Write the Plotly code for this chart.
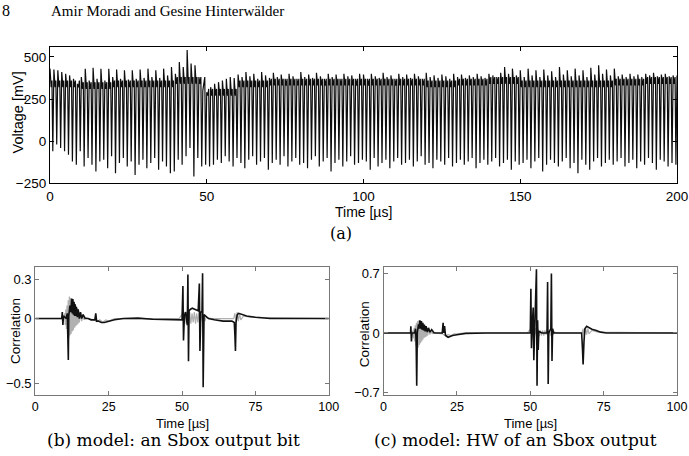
import plotly.graph_objects as go

# ---------------- data: panel (a) power trace, one entry per clock cycle ----------------
cycle_us = 1.25
peak_mv = [430, 425, 420, 410, 400, 390, 370, 340, 380, 430,
           360, 435, 370, 430, 360, 430, 380, 425, 370, 420,
           365, 420, 370, 425, 375, 430, 380, 420, 375, 430,
           390, 440, 400, 470, 440, 540, 460, 450, 380, 300,
           290, 320, 340, 350, 360, 370, 380, 375, 395, 380,
           410, 385, 400, 370, 410, 390, 375, 405, 380, 395,
           370, 400, 385, 370, 410, 380, 395, 375, 405, 385,
           370, 400, 380, 395, 370, 400, 385, 390, 370, 400,
           395, 370, 400, 385, 375, 405, 380, 390, 370, 400,
           380, 395, 375, 400, 385, 370, 405, 380, 390, 375,
           395, 385, 370, 400, 380, 395, 375, 390, 380, 400,
           385, 375, 400, 390, 380, 405, 440, 400, 430, 390,
           420, 380, 430, 390, 420, 380, 425, 390, 415, 380,
           440, 395, 420, 385, 430, 390, 420, 380, 435, 395,
           450, 400, 425, 390, 430, 385, 395, 380, 400, 385,
           395, 380, 400, 390, 405, 385, 395, 400, 385, 390]
trough_mv = [-60, -20, -40, -60, -80, -120, -140, -60, -150, -100,
             -140, -180, -120, -110, -160, -90, -190, -130, -100, -150,
             -120, -200, -140, -110, -160, -130, -100, -170, -120, -150,
             -190, -180, -110, -140, -90, -40, -210, -100, -150, -140,
             -150, -140, -110, -130, -90, -120, -150, -100, -130, -160,
             -110, -90, -140, -120, -100, -170, -130, -110, -140, -90,
             -150, -120, -100, -140, -130, -160, -110, -90, -150, -120,
             -100, -180, -130, -110, -150, -120, -90, -140, -130, -110,
             -120, -170, -100, -150, -130, -110, -160, -120, -100, -140,
             -130, -110, -150, -120, -90, -140, -130, -160, -110, -120,
             -140, -100, -150, -130, -110, -140, -120, -100, -160, -130,
             -110, -140, -120, -100, -150, -130, -110, -170, -120, -140,
             -130, -110, -160, -120, -100, -180, -140, -110, -130, -150,
             -120, -100, -160, -130, -190, -110, -140, -170, -120, -100,
             -150, -130, -110, -140, -120, -100, -150, -130, -110, -160,
             -120, -140, -100, -130, -170, -110, -120, -150, -130, -140]
# plateau (dark band) level per 10 us block
plateau_mv = [320, 310, 320, 320, 340, 270, 320, 330, 330, 330,
              330, 330, 320, 330, 340, 320, 320, 320, 330, 340]

# ---------------- data: panels (b) and (c) correlation traces ----------------
b_time = [0, 5, 9.0, 9.2, 9.4, 9.6, 10.5, 10.9, 11.1, 11.25, 11.4, 11.8, 12.1, 12.4, 12.6,
          12.8, 13.0, 13.2, 13.4, 13.6, 13.8, 14.0, 14.3, 14.6, 15.0, 15.4, 15.8, 16.3, 17.0,
          18.0, 19.0, 20.3, 20.6, 20.9, 21.5, 22.5, 23.5, 25, 27, 30, 35, 40, 45, 48,
          50.0, 50.3, 50.5, 50.8, 51.2, 51.8, 52.0, 52.2, 52.4, 52.8, 53.5, 54.5, 55.5,
          55.9, 56.1, 56.4, 56.8, 57.0, 57.2, 57.5, 58, 59, 61, 64, 67, 67.8, 68.0, 68.2,
          68.4, 68.8, 69.3, 70, 72, 75, 80, 90, 100]
b_corr = [0, 0.003, 0.0, 0.05, -0.05, 0.02, 0.0, 0.04, -0.1, -0.32, 0.02, 0.10, 0.05, 0.155, 0.04,
          0.15, 0.03, 0.13, 0.02, 0.11, 0.02, 0.09, 0.01, 0.07, 0.0, 0.05, 0.0, 0.03, 0.0,
          0.0, -0.01, -0.01, 0.04, -0.02, -0.02, -0.03, -0.03, -0.02, -0.01, 0.0, 0.003, -0.005, -0.01, -0.01,
          -0.01, 0.25, -0.17, 0.02, 0.05, -0.05, 0.34, -0.33, 0.06, 0.07, 0.08, 0.07, 0.06,
          0.27, -0.25, 0.05, 0.05, 0.35, -0.53, 0.03, 0.02, 0.0, -0.01, -0.02, -0.02, -0.03, -0.12, -0.25,
          -0.03, 0.03, 0.04, 0.035, 0.02, 0.01, 0.0, 0.0, 0.0]

c_time = [0, 8, 9.2, 9.3, 9.5, 9.7, 10.6, 10.9, 11.1, 11.3, 11.5, 11.9, 12.1, 12.4, 12.6,
          12.9, 13.1, 13.4, 13.6, 13.9, 14.2, 14.5, 14.9, 15.3, 15.8, 16.4, 17.2, 18.5,
          20.0, 20.3, 20.5, 20.8, 21.1, 22.0, 23.5, 25, 28, 35, 45,
          50.0, 50.2, 50.4, 50.6, 51.0, 51.2, 51.5, 51.9, 52.1, 52.3, 52.5, 52.7, 52.9, 54,
          55.7, 55.9, 56.1, 56.3, 57.0, 57.2, 57.4, 57.6, 58, 60,
          67.5, 67.8, 68.0, 68.3, 68.6, 69.2, 70.0, 71, 72.5, 74, 76, 100]
c_corr = [0, 0, 0.0, 0.08, -0.1, 0.0, 0.0, 0.05, -0.1, -0.62, 0.0, 0.10, 0.05, 0.15, 0.05,
          0.14, 0.04, 0.12, 0.03, 0.10, 0.02, 0.08, 0.01, 0.06, 0.01, 0.04, 0.0, 0.0,
          0.0, 0.12, 0.0, 0.08, -0.03, -0.05, -0.03, -0.02, -0.005, 0.0, 0.0,
          0.0, 0.52, -0.18, 0.05, 0.3, -0.32, 0.0, 0.45, 0.75, -0.62, 0.15, -0.2, 0.02, 0.0,
          0.0, 0.6, -0.6, 0.0, 0.05, 0.70, -0.33, 0.05, 0.0, 0.0,
          0.0, -0.2, -0.37, -0.1, 0.05, 0.08, 0.06, 0.045, 0.03, 0.01, 0.0, 0.0]

# wrong-key-hypothesis traces (grey)
gray_time = [0, 9.8, 10.0, 10.2, 10.4, 10.6, 10.8, 11.0, 11.2, 11.4, 11.6, 11.8, 12.0, 12.2, 12.4,
             12.6, 12.8, 13.0, 13.2, 13.4, 13.6, 13.8, 14.0, 14.2, 14.4, 14.6, 14.8,
             15.0, 15.4, 15.8, 16.2, 16.6, 17.0, 18, 20, 21, 22, 23, 24, 25, 27, 49,
             50.2, 50.6, 51, 51.4, 51.8, 52.2, 52.6, 53, 53.4, 53.8, 54.2, 54.6, 55, 55.4,
             55.8, 56.2, 56.6, 57, 57.4, 57.8, 58.2, 60, 67.6, 68, 68.4, 68.8, 69.2, 69.6,
             70, 71, 73, 100]
b_gray = [0, 0, 0.04, -0.05, 0.07, -0.08, 0.10, -0.12, 0.14, -0.15, 0.17, -0.13, 0.16, -0.12, 0.15,
          -0.10, 0.14, -0.09, 0.12, -0.07, 0.11, -0.06, 0.09, -0.05, 0.08, -0.04, 0.06,
          -0.03, 0.04, -0.02, 0.03, -0.01, 0.01, 0, -0.01, -0.025, -0.01, -0.03, -0.01, -0.02, 0, 0,
          0.04, -0.05, 0.05, -0.04, 0.06, -0.05, 0.05, -0.04, 0.04, -0.03, 0.05, -0.04, 0.04, -0.03,
          0.05, -0.04, 0.04, -0.03, 0.03, -0.02, 0.01, 0, 0, 0.04, -0.03, 0.05, -0.02, 0.04,
          -0.01, 0.02, 0.01, 0]
c_gray = [0, 0, 0.03, -0.06, 0.06, -0.10, 0.09, -0.15, 0.12, -0.20, 0.14, -0.17, 0.15, -0.14, 0.14,
          -0.12, 0.12, -0.10, 0.11, -0.08, 0.10, -0.06, 0.08, -0.05, 0.07, -0.04, 0.05,
          -0.03, 0.04, -0.02, 0.03, -0.01, 0.01, 0, -0.01, -0.03, -0.02, -0.03, -0.01, -0.01, 0, 0,
          0.05, -0.06, 0.04, -0.05, 0.06, -0.05, 0.05, -0.04, 0.03, -0.03, 0.03, -0.03, 0.03, -0.02,
          0.04, -0.03, 0.04, -0.03, 0.03, -0.02, 0.01, 0, 0, 0.05, -0.04, 0.06, -0.02, 0.05,
          -0.01, 0.03, 0.01, 0]

x_ticks_a = [0, 50, 100, 150, 200]
y_ticks_a = [-250, 0, 250, 500]
x_ticks_bc = [0, 25, 50, 75, 100]
y_ticks_b = [-0.5, 0, 0.3]
y_ticks_c = [-0.7, 0, 0.7]

# ---------------- build panel (a) series from per-cycle values ----------------
phase = [0.0, 0.3, 0.5, 0.72]
band_wiggle = 40
ta, va = [], []
for k in range(len(peak_mv)):
    t0 = k * cycle_us
    lvl = plateau_mv[min(int(t0 // 10), len(plateau_mv) - 1)]
    ta += [t0 + p * cycle_us for p in phase]
    va += [peak_mv[k], lvl, lvl + band_wiggle, trough_mv[k]]
ta.append(len(peak_mv) * cycle_us)
va.append(peak_mv[-1])

W, H = 689, 456
def px(x):
    return x / W
def py(y):
    return 1 - y / H

fig = go.Figure()
fig.add_trace(go.Scatter(x=ta, y=va, mode="lines", line=dict(color="#0d0d0d", width=1.2),
                         xaxis="x", yaxis="y", showlegend=False, hoverinfo="skip"))
fig.add_trace(go.Scatter(x=gray_time, y=b_gray, mode="lines", line=dict(color="#b0b0b0", width=1.2),
                         xaxis="x2", yaxis="y2", showlegend=False, hoverinfo="skip"))
fig.add_trace(go.Scatter(x=b_time, y=b_corr, mode="lines", line=dict(color="#111111", width=1.6),
                         xaxis="x2", yaxis="y2", showlegend=False, hoverinfo="skip"))
fig.add_trace(go.Scatter(x=gray_time, y=c_gray, mode="lines", line=dict(color="#b0b0b0", width=1.2),
                         xaxis="x3", yaxis="y3", showlegend=False, hoverinfo="skip"))
fig.add_trace(go.Scatter(x=c_time, y=c_corr, mode="lines", line=dict(color="#111111", width=1.6),
                         xaxis="x3", yaxis="y3", showlegend=False, hoverinfo="skip"))

sans = "Liberation Sans, Arial, sans-serif"
serif = "DejaVu Serif, serif"
serif_narrow = "Liberation Serif, serif"

def ax(domain, rng, ticks, anchor, color, fsize):
    return dict(domain=domain, range=rng, tickvals=ticks, anchor=anchor,
                showline=True, linecolor=color, linewidth=1.2, mirror="allticks",
                ticks="inside", ticklen=4, tickcolor=color, tickwidth=1,
                showgrid=False, zeroline=False, ticklabeloverflow="allow",
                tickfont=dict(family=sans, size=fsize, color="black"), fixedrange=True)

fig.update_layout(
    width=W, height=H, margin=dict(l=0, r=0, t=0, b=0),
    paper_bgcolor="white", plot_bgcolor="white",
    xaxis=ax([px(47), px(688)], [0, 200], x_ticks_a, "y", "black", 13.5),
    yaxis=ax([py(186), py(47)], [-250, 558], y_ticks_a, "x", "black", 13.5),
    xaxis2=ax([px(32), px(332)], [0, 100], x_ticks_bc, "y2", "#777777", 12.5),
    yaxis2=ax([py(402), py(271)], [-0.59, 0.40], y_ticks_b, "x2", "#777777", 13),
    xaxis3=ax([px(388), px(688)], [0, 100], x_ticks_bc, "y3", "#777777", 12.5),
    yaxis3=ax([py(402), py(271)], [-0.73, 0.78], y_ticks_c, "x3", "#777777", 13),
)

def note(text, x, y, size, family, angle=0, xanchor="center"):
    fig.add_annotation(text=text, x=px(x), y=py(y), xref="paper", yref="paper",
                       showarrow=False, textangle=angle, xanchor=xanchor, yanchor="middle",
                       font=dict(family=family, size=size, color="black"))

note("8", -4, 10, 16, serif_narrow, xanchor="left")
note("Amir Moradi and Gesine Hinterwälder", 46, 10, 15, serif_narrow, xanchor="left")
note("Time [µs]", 368, 215, 14, sans)
note("Voltage [mV]", 14, 114, 14.5, sans, angle=-90)
note("(a)", 344, 237, 16, serif)
note("Time [µs]", 182, 431, 13, sans)
note("Correlation", 12, 337, 13.5, sans, angle=-90)
note("(b) model: an Sbox output bit", 173, 448, 17, serif)
note("Time [µs]", 538, 431, 13, sans)
note("Correlation", 368, 340, 13.5, sans, angle=-90)
note("(c) model: HW of an Sbox output", 523, 448, 17, serif)

fig.write_html("out.html")
